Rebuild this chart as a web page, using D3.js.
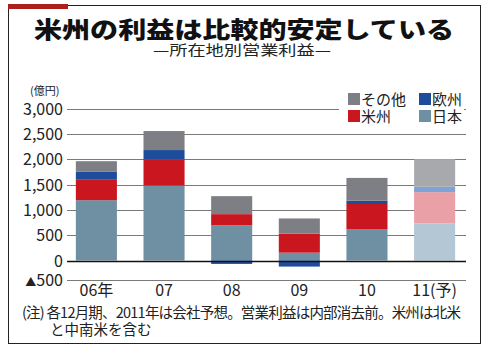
<!DOCTYPE html>
<html>
<head>
<meta charset="utf-8">
<script src="https://cdn.jsdelivr.net/npm/d3@7"></script>
<style>
  body { margin: 0; background: #fff; }
  svg text { font-family: "Noto Sans CJK JP", sans-serif; fill: #222; }
</style>
</head>
<body>
<div id="chart"></div>
<script>
// values in 億円
var years = ["06年", "07", "08", "09", "10", "11(予)"],
  japan = [1190, 1480, 695, 155, 620, 730],
  americas = [415, 515, 220, 375, 495, 620],
  europe = [145, 185, -90, -160, 65, 105],
  other = [210, 375, 355, 300, 450, 545],
  yTicks = [-500, 0, 500, 1000, 1500, 2000, 2500, 3000],
  regions = ["japan", "americas", "europe", "other"],
  colors = { japan: "#6f90a2", americas: "#c9161f", europe: "#1d4d9a", other: "#7e7f84" },
  lightColors = { japan: "#b4c7d4", americas: "#e9a1a7", europe: "#7ea3d8", other: "#a8a9ad" };

var W = 490, H = 350;

var svg = d3.select("#chart").append("svg")
  .attr("width", W)
  .attr("height", H);

// frame + red tab
svg.append("rect")
  .attr("x", 8.5).attr("y", 5.5)
  .attr("width", 472).attr("height", 338)
  .attr("fill", "none").attr("stroke", "#222").attr("stroke-width", 1);
svg.append("rect")
  .attr("x", 8).attr("y", 4)
  .attr("width", 60).attr("height", 5)
  .attr("fill", "#ad1f1c");

// title, stretched wide like the original's heavy mincho
svg.append("text")
  .attr("x", 244).attr("y", 38)
  .attr("text-anchor", "middle")
  .attr("font-size", 23).attr("font-weight", 900)
  .attr("textLength", 420)
  .attr("lengthAdjust", "spacingAndGlyphs")
  .style("fill", "#111")
  .text("米州の利益は比較的安定している");

svg.append("text")
  .attr("x", 242).attr("y", 55)
  .attr("text-anchor", "middle")
  .attr("font-size", 14)
  .attr("textLength", 178)
  .attr("lengthAdjust", "spacingAndGlyphs")
  .text("—所在地別営業利益—");

// scales; the area below zero is drawn compressed in the original
var x = d3.scaleBand().domain(years).range([63, 468]).paddingInner(0.393).paddingOuter(0.19),
  y = d3.scaleLinear().domain([-500, 0, 3000]).range([279.5, 260.5, 108.5]);

var rows = years.map(function(yr, i) {
  return { year: yr, japan: japan[i], americas: americas[i], europe: europe[i], other: other[i] };
});
var series = d3.stack().keys(regions).offset(d3.stackOffsetDiverging)(rows);

// gridlines
svg.append("g")
  .selectAll("line")
  .data(yTicks.filter(function(d) { return d !== 0; }))
  .enter().append("line")
  .attr("x1", 67).attr("x2", 466)
  .attr("y1", function(d) { return Math.round(y(d)) + 0.5; })
  .attr("y2", function(d) { return Math.round(y(d)) + 0.5; })
  .attr("stroke", "#7a7a7a").attr("stroke-width", 1);

// y tick labels
var yLab = svg.append("g")
  .selectAll("text")
  .data(yTicks)
  .enter().append("text")
  .attr("x", 63)
  .attr("y", function(d) { return y(d) + 6; })
  .attr("text-anchor", "end")
  .attr("font-size", 16);
yLab.filter(function(d) { return d < 0; })
  .append("tspan").attr("font-size", 11).text("▲");
yLab.append("tspan")
  .text(function(d) { return d3.format(",")(Math.abs(d)); });

svg.append("text")
  .attr("x", 30).attr("y", 95)
  .attr("font-size", 11)
  .text("(億円)");

// bars
svg.append("g")
  .selectAll("g")
  .data(series)
  .enter().append("g")
  .selectAll("rect")
  .data(function(s) { return s.map(function(d) { return { key: s.key, d: d }; }); })
  .enter().append("rect")
  .attr("x", function(p) { return x(p.d.data.year); })
  .attr("width", x.bandwidth())
  .attr("y", function(p) { return y(Math.max(p.d[0], p.d[1])); })
  .attr("height", function(p) { return Math.abs(y(p.d[0]) - y(p.d[1])); })
  .attr("fill", function(p) {
    return p.d.data.year === "11(予)" ? lightColors[p.key] : colors[p.key];
  });

// zero line
svg.append("line")
  .attr("x1", 67).attr("x2", 466)
  .attr("y1", Math.round(y(0)) + 0.5).attr("y2", Math.round(y(0)) + 0.5)
  .attr("stroke", "#111").attr("stroke-width", 1.3);

// x labels
svg.append("g")
  .selectAll("text")
  .data(years)
  .enter().append("text")
  .attr("x", function(d) { return x(d) + x.bandwidth() / 2; })
  .attr("y", 296)
  .attr("text-anchor", "middle")
  .attr("font-size", 16)
  .text(function(d) { return d; });

// legend (white box hides the top gridline)
var legend = svg.append("g");
legend.append("rect")
  .attr("x", 339).attr("y", 88)
  .attr("width", 125).attr("height", 38)
  .attr("fill", "#fff");
var legendItems = [
  { key: "other", label: "その他", x: 348, y: 93 },
  { key: "europe", label: "欧州", x: 419, y: 93 },
  { key: "americas", label: "米州", x: 348, y: 110 },
  { key: "japan", label: "日本", x: 419, y: 110 }
];
legendItems.forEach(function(it) {
  legend.append("rect")
    .attr("x", it.x).attr("y", it.y)
    .attr("width", 12).attr("height", 12)
    .attr("fill", colors[it.key]);
  legend.append("text")
    .attr("x", it.x + 13).attr("y", it.y + 12)
    .attr("font-size", 15)
    .text(it.label);
});

// note
svg.append("text")
  .attr("x", 22).attr("y", 318)
  .attr("font-size", 14.5)
  .attr("textLength", 439)
  .text("(注) 各12月期、2011年は会社予想。営業利益は内部消去前。米州は北米");
svg.append("text")
  .attr("x", 50).attr("y", 335)
  .attr("font-size", 14.5)
  .text("と中南米を含む");
</script>
</body>
</html>
